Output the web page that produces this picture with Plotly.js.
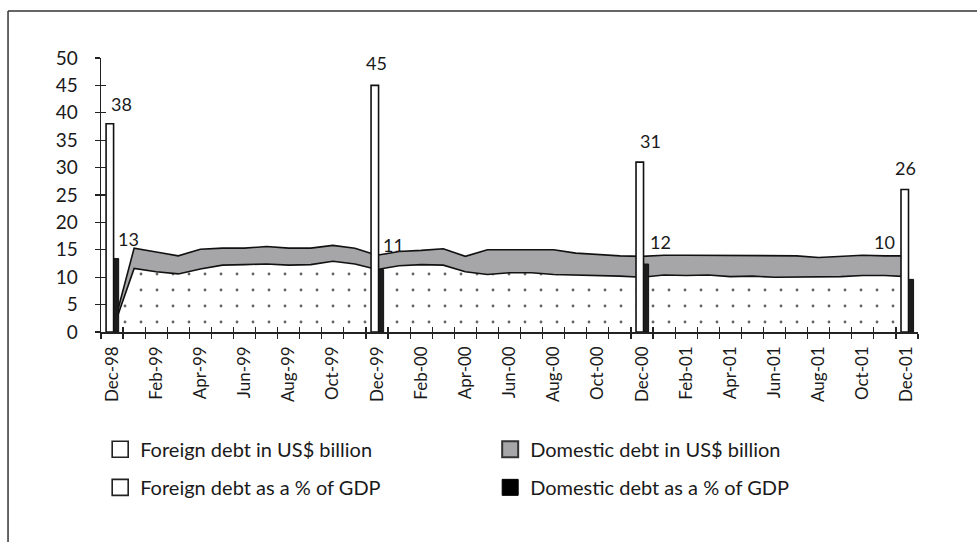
<!DOCTYPE html>
<html>
<head>
<meta charset="utf-8">
<script src="https://cdn.plot.ly/plotly-3.0.1.min.js"></script>
<style>html,body{margin:0;padding:0;background:#fff}#chart{width:977px;height:542px}</style>
</head>
<body>
<div id="chart"></div>
<script>
// ---- Data ----
const months = ['Dec-98','Jan-99','Feb-99','Mar-99','Apr-99','May-99','Jun-99','Jul-99','Aug-99','Sep-99','Oct-99','Nov-99',
  'Dec-99','Jan-00','Feb-00','Mar-00','Apr-00','May-00','Jun-00','Jul-00','Aug-00','Sep-00','Oct-00','Nov-00',
  'Dec-00','Jan-01','Feb-01','Mar-01','Apr-01','May-01','Jun-01','Jul-01','Aug-01','Sep-01','Oct-01','Nov-01','Dec-01'];
const tickLabels = ['Dec-98','','Feb-99','','Apr-99','','Jun-99','','Aug-99','','Oct-99','',
  'Dec-99','','Feb-00','','Apr-00','','Jun-00','','Aug-00','','Oct-00','',
  'Dec-00','','Feb-01','','Apr-01','','Jun-01','','Aug-01','','Oct-01','','Dec-01'];
const foreignUSD = [0, 11.6, 11.0, 10.6, 11.5, 12.2, 12.3, 12.4, 12.2, 12.3, 12.9, 12.4,
  11.4, 12.1, 12.3, 12.2, 11.0, 10.5, 10.8, 10.8, 10.5, 10.4, 10.4, 10.2,
  10.0, 10.4, 10.3, 10.4, 10.1, 10.2, 10.0, 10.0, 10.0, 10.1, 10.3, 10.3, 10.1];
const domesticUSD = [0, 3.7, 3.6, 3.3, 3.6, 3.1, 3.0, 3.2, 3.1, 3.0, 2.9, 2.9,
  2.6, 2.6, 2.6, 3.0, 2.8, 4.5, 4.2, 4.2, 4.5, 4.0, 3.7, 3.7,
  3.8, 3.6, 3.7, 3.6, 3.8, 3.7, 3.9, 3.9, 3.6, 3.7, 3.7, 3.6, 3.8];
const barMonths = ['Dec-98','Dec-99','Dec-00','Dec-01'];
const foreignPctGDP = [38, 45, 31, 26];
const domesticPctGDP = [13.4, 11.4, 12.4, 9.6];
const seriesNames = ['Foreign debt in US$ billion','Domestic debt in US$ billion',
  'Foreign debt as a % of GDP','Domestic debt as a % of GDP'];

// ---- Styles ----
const FONT = 'Lato, "Open Sans", sans-serif';
const INK = '#1a1a1a';
const foreignLabelShift = [[9,20],[-1,22],[9,21],[-1,22]];
const domesticLabelShift = [[16,20],[16,25],[19,22],[-22,37]];

const traces = [
  {type:'scatter', x:months, y:foreignUSD, stackgroup:'usd', mode:'lines',
   line:{color:'#111', width:1.6}, fillcolor:'#ffffff',
   fillpattern:{shape:'.', fgcolor:'#666', bgcolor:'#ffffff', size:16, solidity:0.025},
   showlegend:false, hoverinfo:'skip'},
  {type:'scatter', x:months, y:domesticUSD, stackgroup:'usd', mode:'lines',
   line:{color:'#111', width:1.6}, fillcolor:'#a6a6a8', showlegend:false, hoverinfo:'skip'},
  {type:'bar', x:barMonths, y:foreignPctGDP, xaxis:'x2', yaxis:'y2',
   width:0.34, offset:-0.27, marker:{color:'#ffffff', line:{color:'#111', width:1.6}},
   showlegend:false},
  {type:'bar', x:barMonths, y:domesticPctGDP, xaxis:'x2', yaxis:'y2',
   width:0.23, offset:0.07, marker:{color:'#1c1c1c', line:{color:'#111', width:1}},
   showlegend:false},
  // legend entries
  {type:'scatter', mode:'markers', x:[null], y:[null], name:seriesNames[0], legend:'legend',
   marker:{symbol:'square', size:16, color:'#ffffff', line:{color:'#222', width:1.6}}},
  {type:'scatter', mode:'markers', x:[null], y:[null], name:seriesNames[1], legend:'legend',
   marker:{symbol:'square', size:16, color:'#a6a6a8', line:{color:'#333', width:2}}},
  {type:'scatter', mode:'markers', x:[null], y:[null], name:seriesNames[2], legend:'legend2',
   marker:{symbol:'square', size:16, color:'#ffffff', line:{color:'#222', width:1.6}}},
  {type:'scatter', mode:'markers', x:[null], y:[null], name:seriesNames[3], legend:'legend2',
   marker:{symbol:'square', size:16, color:'#000000', line:{color:'#000', width:1}}}
];

const annotations = [];
barMonths.forEach((m,i)=>{
  annotations.push({x:m, y:foreignPctGDP[i], xref:'x2', yref:'y2', text:String(Math.round(foreignPctGDP[i])),
    showarrow:false, xanchor:'center', yanchor:'middle', xshift:foreignLabelShift[i][0], yshift:foreignLabelShift[i][1],
    font:{family:FONT, size:18, color:INK}});
  annotations.push({x:m, y:domesticPctGDP[i], xref:'x2', yref:'y2', text:String(Math.round(domesticPctGDP[i])),
    showarrow:false, xanchor:'center', yanchor:'middle', xshift:domesticLabelShift[i][0], yshift:domesticLabelShift[i][1],
    font:{family:FONT, size:18, color:INK}});
});

const xBase = {type:'category', categoryorder:'array', categoryarray:months, range:[-0.5, 36.5],
  tickvals:months, tickson:'boundaries', showgrid:false, zeroline:false, fixedrange:true};
const yBase = {range:[0,50], dtick:5, tick0:0, showgrid:false, zeroline:false, fixedrange:true};

const legendBase = {orientation:'h', x:-0.001, xanchor:'left', yanchor:'middle', entrywidth:345,
  traceorder:'normal', font:{family:FONT, size:20, color:INK}, bgcolor:'rgba(0,0,0,0)', itemclick:false};

const layout = {
  width:977, height:542,
  margin:{l:101, r:59, t:58, b:210},
  paper_bgcolor:'#ffffff', plot_bgcolor:'rgba(0,0,0,0)',
  font:{family:FONT, color:INK},
  barmode:'overlay',
  xaxis:Object.assign({}, xBase, {ticktext:tickLabels, tickangle:-90, ticks:'outside', ticklen:5, tickwidth:1.2,
    tickcolor:'#222', showline:true, linecolor:'#222', linewidth:1.5,
    tickfont:{family:FONT, size:17, color:INK}, ticklabelstandoff:6}),
  xaxis2:Object.assign({}, xBase, {overlaying:'x', ticktext:tickLabels.map(()=> ''), showticklabels:false,
    ticks:'inside', ticklen:5, tickwidth:1.2, tickcolor:'#222', showline:false}),
  yaxis:Object.assign({}, yBase, {ticks:'outside', ticklen:5, tickwidth:1.2, tickcolor:'#222',
    showline:true, linecolor:'#222', linewidth:1.5, tickfont:{family:FONT, size:19, color:INK}, ticklabelstandoff:13}),
  yaxis2:Object.assign({}, yBase, {overlaying:'y', side:'left', ticks:'inside', ticklen:5, tickwidth:1.2,
    tickcolor:'#222', showticklabels:false, showline:false}),
  legend:Object.assign({}, legendBase, {y:-0.428}),
  legend2:Object.assign({}, legendBase, {y:-0.567}),
  shapes:[
    {type:'line', xref:'paper', yref:'paper', x0:-0.1138, x1:1.08, y0:1.1715, y1:1.1715, line:{color:'#333', width:1.5}},
    {type:'line', xref:'paper', yref:'paper', x0:-0.1138, x1:-0.1138, y0:1.1715, y1:-0.8, line:{color:'#333', width:1.5}}
  ],
  annotations:annotations
};

Plotly.newPlot('chart', traces, layout, {displayModeBar:false, staticPlot:true});
</script>
</body>
</html>
